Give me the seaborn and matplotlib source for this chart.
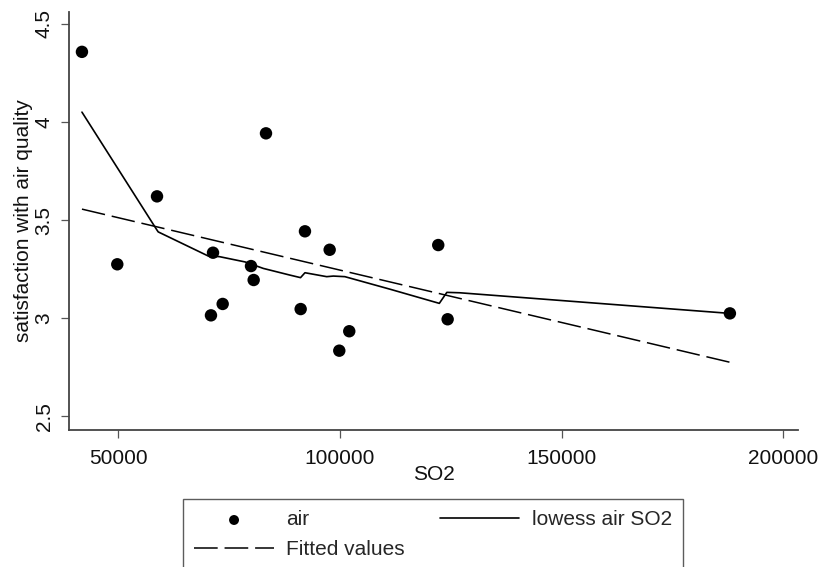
import numpy as np
import pandas as pd
import matplotlib
matplotlib.use("Agg")
import matplotlib.pyplot as plt
import seaborn as sns

# scatter points (SO2, satisfaction with air quality)
so2 = [41800, 49770, 58730, 70900, 71360, 73540, 79930, 80530, 83310,
       91130, 92100, 97670, 99840, 102090, 122160, 124280, 187940]
air = [4.357, 3.275, 3.621, 3.015, 3.334, 3.073, 3.266, 3.195, 3.942,
       3.047, 3.443, 3.349, 2.835, 2.934, 3.373, 2.995, 3.025]

# lowess curve as drawn
lowess_x = [41800, 58700, 59000, 70300, 72800, 78600, 82700, 88700, 91100,
            92100, 97000, 98500, 101100, 111300, 122400, 124100, 127000, 187900]
lowess_y = [4.05, 3.45, 3.44, 3.317, 3.314, 3.287, 3.254, 3.22, 3.207,
            3.232, 3.212, 3.215, 3.212, 3.148, 3.076, 3.132, 3.13, 3.025]

# linear fit end points
fit_x = [41800, 187940]
fit_y = [3.556, 2.776]

xticks = [50000, 100000, 150000, 200000]
yticks = [2.5, 3, 3.5, 4, 4.5]

sns.set_style("white")
plt.rcParams['font.family'] = ['Liberation Sans', 'DejaVu Sans']

df_pts = pd.DataFrame({'SO2': so2, 'air': air})
df_low = pd.DataFrame({'SO2': lowess_x, 'y': lowess_y})
df_fit = pd.DataFrame({'SO2': fit_x, 'y': fit_y})

fig = plt.figure(figsize=(8.23, 5.67), dpi=100)
ax = fig.add_axes([69/823, 1-430/567, 729/823, 418/567])

sns.scatterplot(data=df_pts, x='SO2', y='air', color='black', s=80,
                edgecolor='none', ax=ax, label='air', zorder=3)
sns.lineplot(data=df_low, x='SO2', y='y', sort=False, estimator=None,
             color='black', linewidth=1.2, ax=ax, label='lowess air SO2')
sns.lineplot(data=df_fit, x='SO2', y='y', sort=False, estimator=None,
             color='black', linewidth=1.1, ax=ax, label='Fitted values',
             dashes=False)
ax.lines[-1].set_dashes([15.5, 4.5])

ax.set_xlim(38880, 203300)
ax.set_ylim(2.431, 4.56)
ax.set_xticks(xticks)
ax.set_xticklabels([str(t) for t in xticks])
ax.set_yticks(yticks)
ax.set_yticklabels(['2.5', '3', '3.5', '4', '4.5'])

for s in ['top', 'right']:
    ax.spines[s].set_visible(False)
for s in ['left', 'bottom']:
    ax.spines[s].set_color('#444444')
    ax.spines[s].set_linewidth(1.3)

ax.tick_params(axis='both', direction='out', length=6, width=0.9,
               color='#555555', labelsize=15, labelcolor='#111111')
ax.tick_params(axis='x', pad=8, bottom=True)
ax.tick_params(axis='y', pad=5, left=True)
for lab in ax.get_yticklabels():
    lab.set_rotation(90)
    lab.set_va('center')

ax.set_xlabel('SO2', fontsize=15, color='#111111')
ax.set_ylabel('satisfaction with air quality', fontsize=15, color='#111111')
ax.xaxis.set_label_coords(0.5, -0.083)
ax.yaxis.set_label_coords(-0.05, 0.5)

handles, labels = ax.get_legend_handles_labels()
ax.get_legend().remove()
order = [0, 2, 1]
leg = fig.legend([handles[i] for i in order], [labels[i] for i in order],
                 ncol=2, loc='upper left',
                 bbox_to_anchor=(183/823, 1-499/567), borderaxespad=0,
                 fontsize=15, frameon=True, fancybox=False,
                 edgecolor='#333333', handlelength=3.8, handletextpad=0.6,
                 columnspacing=1.7, labelspacing=0.5, borderpad=0.55,
                 markerscale=0.8)
leg.get_frame().set_linewidth(1.0)

fig.savefig('out.png', dpi=100)
